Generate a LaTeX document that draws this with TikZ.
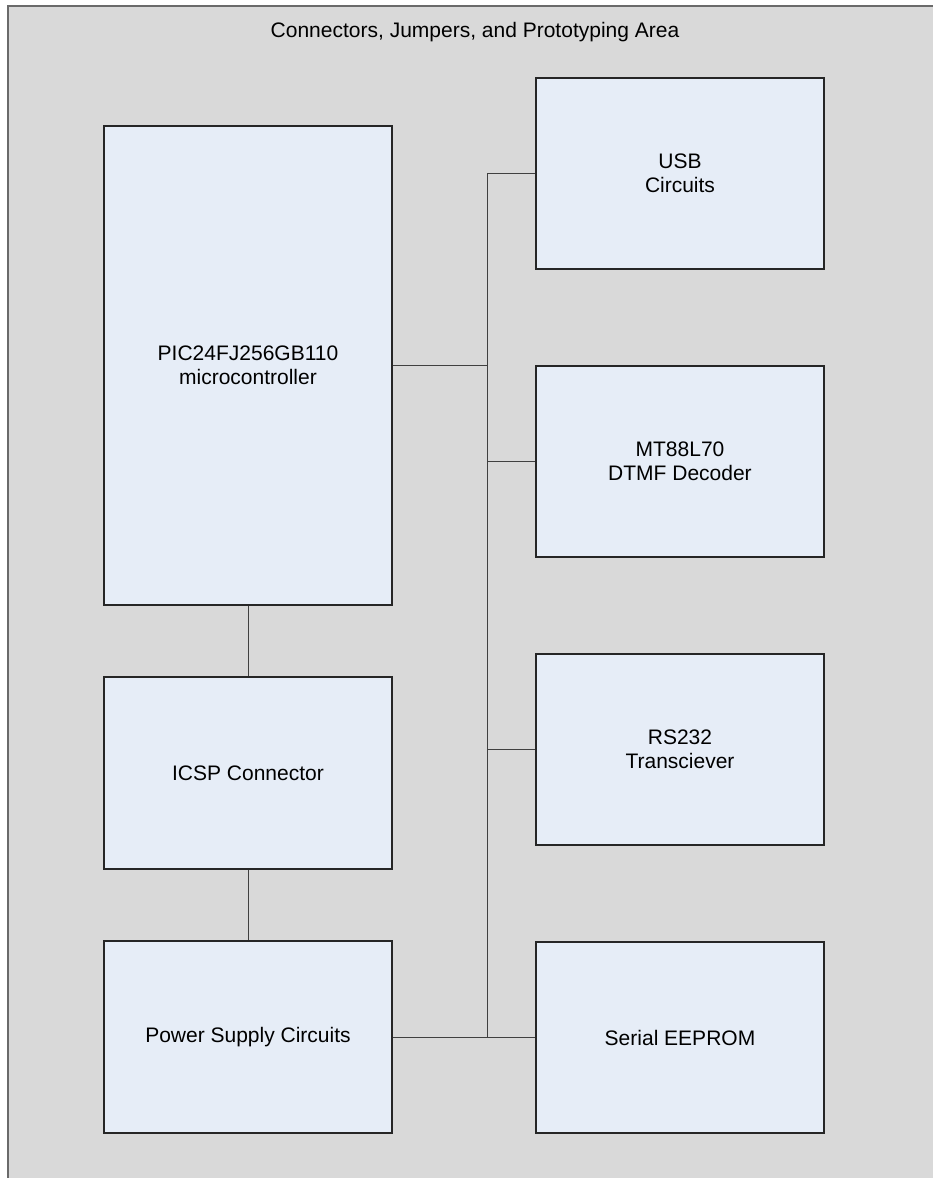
\documentclass[tikz,border=0pt]{standalone}
\usepackage{fontspec}
\setmainfont{Liberation Sans}
\definecolor{bg}{HTML}{D9D9D9}
\definecolor{boxfill}{HTML}{E6EDF7}
\definecolor{frame}{HTML}{6A6A6A}
\definecolor{wire}{HTML}{404040}
\tikzset{
  blk/.style={draw=black!85, line width=1.2pt, fill=boxfill, inner sep=0pt,
    minimum width=288pt, align=center, font=\fontsize{21}{24}\selectfont},
  wireline/.style={draw=wire, line width=1pt},
}
\begin{document}
\begin{tikzpicture}[x=1pt,y=-1pt]
\useasboundingbox (0,0) rectangle (933,1178);
\fill[bg] (8,6) rectangle (933,1178);
\draw[frame, line width=2pt] (8,1178) -- (8,6) -- (933,6);
\node[anchor=base, font=\fontsize{21}{24}\selectfont] (title) at (475,37) {Connectors, Jumpers, and Prototyping Area};
% left column
\node[blk, minimum height=479pt] (pic) at (248,365.5) {PIC24FJ256GB110\\microcontroller};
\node[blk, minimum height=192pt] (icsp) at (248,773) {ICSP Connector};
\node[blk, minimum height=192pt] (power) at (248,1037) {Power Supply Circuits};
% right column
\node[blk, minimum height=191pt] (usb) at (680,173.5) {USB\\Circuits};
\node[blk, minimum height=191pt] (mt) at (680,461.5) {MT88L70\\DTMF Decoder};
\node[blk, minimum height=191pt] (rs) at (680,749.5) {RS232\\Transciever};
\node[blk, minimum height=191pt] (ee) at (680,1037.5) {Serial EEPROM};
% bus
\coordinate (bt) at (487,173.5);
\coordinate (bb) at (487,1037.5);
\draw[wireline] (usb.west) -- (bt) -- (bb) -- (ee.west);
\draw[wireline] (power.east) -- (power.east -| bb);
\draw[wireline] (pic.east) -- (pic.east -| bt);
\draw[wireline] (mt.west) -- (mt.west -| bt);
\draw[wireline] (rs.west) -- (rs.west -| bt);
\draw[wireline] (pic.south) -- (icsp.north);
\draw[wireline] (icsp.south) -- (power.north);
\end{tikzpicture}
\end{document}
